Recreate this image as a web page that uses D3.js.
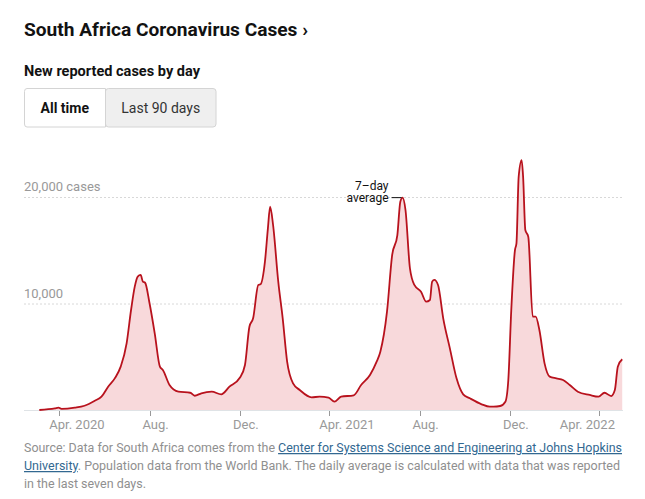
<!DOCTYPE html>
<html>
<head>
<meta charset="utf-8">
<script src="https://cdn.jsdelivr.net/npm/d3@7"></script>
<style>
  body { margin: 0; background: #fff; }
  svg text { font-family: Roboto, "Liberation Sans", sans-serif; }
</style>
</head>
<body>
<svg id="chart" width="645" height="499"></svg>
<script>
// 7-day average of new reported cases
const dates = [
  "2020-03-05", "2020-03-26", "2020-03-31", "2020-04-04", "2020-04-22", "2020-05-05",
  "2020-05-19", "2020-05-28", "2020-06-06", "2020-06-15", "2020-06-23", "2020-07-01",
  "2020-07-07", "2020-07-12", "2020-07-16", "2020-07-20", "2020-07-23", "2020-07-26",
  "2020-08-01", "2020-08-08", "2020-08-15", "2020-08-19", "2020-08-28", "2020-09-09",
  "2020-09-25", "2020-10-01", "2020-10-10", "2020-10-24", "2020-11-06", "2020-11-17",
  "2020-12-01", "2020-12-08", "2020-12-14", "2020-12-19", "2020-12-26", "2020-12-29",
  "2021-01-04", "2021-01-08", "2021-01-11", "2021-01-15", "2021-01-22", "2021-01-28",
  "2021-02-03", "2021-02-11", "2021-02-20", "2021-03-08", "2021-03-19", "2021-03-31",
  "2021-04-08", "2021-04-17", "2021-05-04", "2021-05-14", "2021-05-26", "2021-06-04",
  "2021-06-09", "2021-06-18", "2021-06-25", "2021-07-02", "2021-07-06", "2021-07-09",
  "2021-07-13", "2021-07-19", "2021-07-25", "2021-08-03", "2021-08-10", "2021-08-15",
  "2021-08-18", "2021-08-21", "2021-08-26", "2021-09-02", "2021-09-11", "2021-09-20",
  "2021-09-29", "2021-10-08", "2021-10-24", "2021-11-04", "2021-11-09", "2021-11-18",
  "2021-11-25", "2021-11-29", "2021-12-03", "2021-12-08", "2021-12-10", "2021-12-13",
  "2021-12-17", "2021-12-19", "2021-12-22", "2021-12-26", "2022-01-01", "2022-01-05",
  "2022-01-10", "2022-01-17", "2022-01-24", "2022-02-02", "2022-02-11", "2022-02-20",
  "2022-03-03", "2022-03-19", "2022-03-31", "2022-04-08", "2022-04-17", "2022-04-22",
  "2022-04-26", "2022-05-02"
];
const cases = [
  0, 160, 220, 100, 220, 400,
  870, 1250, 2190, 2970, 4070, 6260,
  9390, 11580, 12520, 12680, 12050, 11950,
  10020, 7200, 4070, 3760, 2350, 1720,
  1620, 1340, 1570, 1720, 1470, 2190,
  3030, 4230, 7820, 8610, 11740, 11800,
  13930, 17060, 19090, 17370, 12050, 8610,
  4540, 2500, 1880, 1190, 1250, 1160,
  780, 1250, 1380, 2350, 3290, 4540,
  5470, 9230, 14560, 16430, 19560, 19940,
  18780, 13310, 11740, 11110, 10170, 10330,
  12050, 12210, 11740, 8610, 5790, 2970,
  1470, 1100, 535, 310, 310, 375,
  780, 2820, 9390, 15020, 15650, 21900,
  23470, 21900, 16900, 16270, 8760, 8760,
  7510, 4380, 3130, 2970, 2820, 2350,
  1720, 1410, 1250, 1620, 1310, 1880,
  4070, 4760
];
const yTicks = [10000, 20000];
const yTickLabels = ["10,000", "20,000 cases"];
const xTicks = ["2020-04-01", "2020-08-01", "2020-12-01", "2021-04-01", "2021-08-01", "2021-12-01", "2022-04-01"];
const xTickLabels = ["Apr. 2020", "Aug.", "Dec.", "Apr. 2021", "Aug.", "Dec.", "Apr. 2022"];
const buttons = ["All time", "Last 90 days"];
const annotationLines = ["7\u2013day", "average"];

const parse = d3.timeParse("%Y-%m-%d");
const data = dates.map((d, i) => ({date: parse(d), v: cases[i]}));

const svg = d3.select("#chart");
const plotLeft = 24, plotRight = 623;

const x = d3.scaleTime()
  .domain([parse(xTicks[0]), parse(xTicks[xTicks.length - 1])])
  .range([59.3, 599.3]);
const y = d3.scaleLinear()
  .domain([0, 20000])
  .range([410, 197]);

// Header
svg.append("text")
  .attr("x", 24).attr("y", 36)
  .attr("font-size", 18).attr("font-weight", 700).attr("fill", "#121212")
  .attr("textLength", 284).attr("lengthAdjust", "spacingAndGlyphs")
  .text("South Africa Coronavirus Cases \u203A");

svg.append("text")
  .attr("x", 24).attr("y", 75.5)
  .attr("font-size", 14).attr("font-weight", 700).attr("fill", "#121212")
  .attr("textLength", 176).attr("lengthAdjust", "spacingAndGlyphs")
  .text("New reported cases by day");

// Toggle buttons
const btnX = [24, 105.5, 216];
const btn = svg.append("g");
btn.append("rect")
  .attr("x", btnX[1]).attr("y", 88.5)
  .attr("width", btnX[2] - btnX[1]).attr("height", 38.5)
  .attr("rx", 3)
  .attr("fill", "#efefef").attr("stroke", "#d4d4d4");
btn.append("path")
  .attr("d", `M${btnX[1]},88.5 H${btnX[0] + 3} Q${btnX[0] + 0.5},88.5 ${btnX[0] + 0.5},91.5 V124 Q${btnX[0] + 0.5},127 ${btnX[0] + 3},127 H${btnX[1]} Z`)
  .attr("fill", "#fff").attr("stroke", "#d4d4d4");
btn.selectAll("text.btn")
  .data(buttons)
  .enter().append("text")
    .attr("class", "btn")
    .attr("x", (d, i) => (btnX[i] + btnX[i + 1]) / 2)
    .attr("y", 113)
    .attr("text-anchor", "middle")
    .attr("font-size", 14)
    .attr("font-weight", (d, i) => i === 0 ? 700 : 400)
    .attr("fill", (d, i) => i === 0 ? "#121212" : "#333")
    .text(d => d);

// Gridlines + y labels
svg.selectAll(".grid")
  .data(yTicks)
  .enter().append("line")
    .attr("class", "grid")
    .attr("x1", plotLeft).attr("x2", plotRight)
    .attr("y1", d => y(d) + 0.5).attr("y2", d => y(d) + 0.5)
    .attr("stroke", "#d8d8d8")
    .attr("stroke-dasharray", "2,2");

svg.selectAll(".ylabel")
  .data(yTicks)
  .enter().append("text")
    .attr("class", "ylabel")
    .attr("x", plotLeft)
    .attr("y", d => y(d) - 6)
    .attr("font-size", 13)
    .attr("fill", "#999")
    .text((d, i) => yTickLabels[i]);

// baseline
svg.append("line")
  .attr("x1", plotLeft).attr("x2", plotRight)
  .attr("y1", y(0) + 0.5).attr("y2", y(0) + 0.5)
  .attr("stroke", "#dfe3e6");

// Area and line (daily data in the original, so draw it smooth)
const area = d3.area()
  .curve(d3.curveMonotoneX)
  .x(d => x(d.date))
  .y0(y(0))
  .y1(d => y(d.v));
const line = d3.line()
  .curve(d3.curveMonotoneX)
  .x(d => x(d.date))
  .y(d => y(d.v));

svg.append("path")
  .datum(data)
  .attr("d", area)
  .attr("fill", "#f8d9db");

svg.append("path")
  .datum(data)
  .attr("d", line)
  .attr("fill", "none")
  .attr("stroke", "#b8121d")
  .attr("stroke-width", 1.8)
  .attr("stroke-linejoin", "round");

// x ticks
const tickDates = xTicks.map(parse);
svg.selectAll(".xtick")
  .data(tickDates)
  .enter().append("line")
    .attr("class", "xtick")
    .attr("x1", d => Math.round(x(d)) + 0.5).attr("x2", d => Math.round(x(d)) + 0.5)
    .attr("y1", 411).attr("y2", 416)
    .attr("stroke", "#999");

svg.selectAll(".xlabel")
  .data(tickDates)
  .enter().append("text")
    .attr("class", "xlabel")
    .attr("font-size", 13)
    .attr("fill", "#999")
    .attr("y", 429)
    .attr("x", (d, i) => xTickLabels[i].length > 4 ? x(d) - 10 : x(d) + 6)
    .attr("text-anchor", (d, i) => xTickLabels[i].length > 4 ? "start" : "middle")
    .text((d, i) => xTickLabels[i])
    .each(function() {
      // keep the last label inside the plot
      const bb = this.getBBox();
      if (bb.x + bb.width > plotRight - 8) {
        d3.select(this).attr("text-anchor", "end").attr("x", plotRight - 8);
      }
    });

// annotation on the 2021 peak
const peak = data.filter(d => d.date < parse("2021-10-01") && d.date > parse("2021-04-01"))
  .reduce((a, b) => b.v > a.v ? b : a);
const px = x(peak.date), py = y(peak.v);
svg.append("line")
  .attr("x1", px - 11).attr("x2", px - 1)
  .attr("y1", py).attr("y2", py)
  .attr("stroke", "#121212");
svg.selectAll(".anno")
  .data(annotationLines)
  .enter().append("text")
    .attr("class", "anno")
    .attr("x", px - 14)
    .attr("y", (d, i) => py - 8 + i * 12.5)
    .attr("text-anchor", "end")
    .attr("font-size", 12)
    .attr("fill", "#121212")
    .text(d => d);

// Source note
const src = svg.append("g").attr("font-size", 12.5).attr("fill", "#8f8f8f");
const l1 = src.append("text").attr("x", 24).attr("y", 452)
  .attr("textLength", 598).attr("lengthAdjust", "spacingAndGlyphs");
l1.append("tspan").text("Source: Data for South Africa comes from the ");
l1.append("tspan").attr("fill", "#326891").attr("text-decoration", "underline")
  .text("Center for Systems Science and Engineering at Johns Hopkins");
const l2 = src.append("text").attr("x", 24).attr("y", 470)
  .attr("textLength", 596).attr("lengthAdjust", "spacingAndGlyphs");
l2.append("tspan").attr("fill", "#326891").attr("text-decoration", "underline").text("University");
l2.append("tspan").text(". Population data from the World Bank. The daily average is calculated with data that was reported");
src.append("text").attr("x", 24).attr("y", 488)
  .attr("textLength", 122).attr("lengthAdjust", "spacingAndGlyphs")
  .text("in the last seven days.");
</script>
</body>
</html>
